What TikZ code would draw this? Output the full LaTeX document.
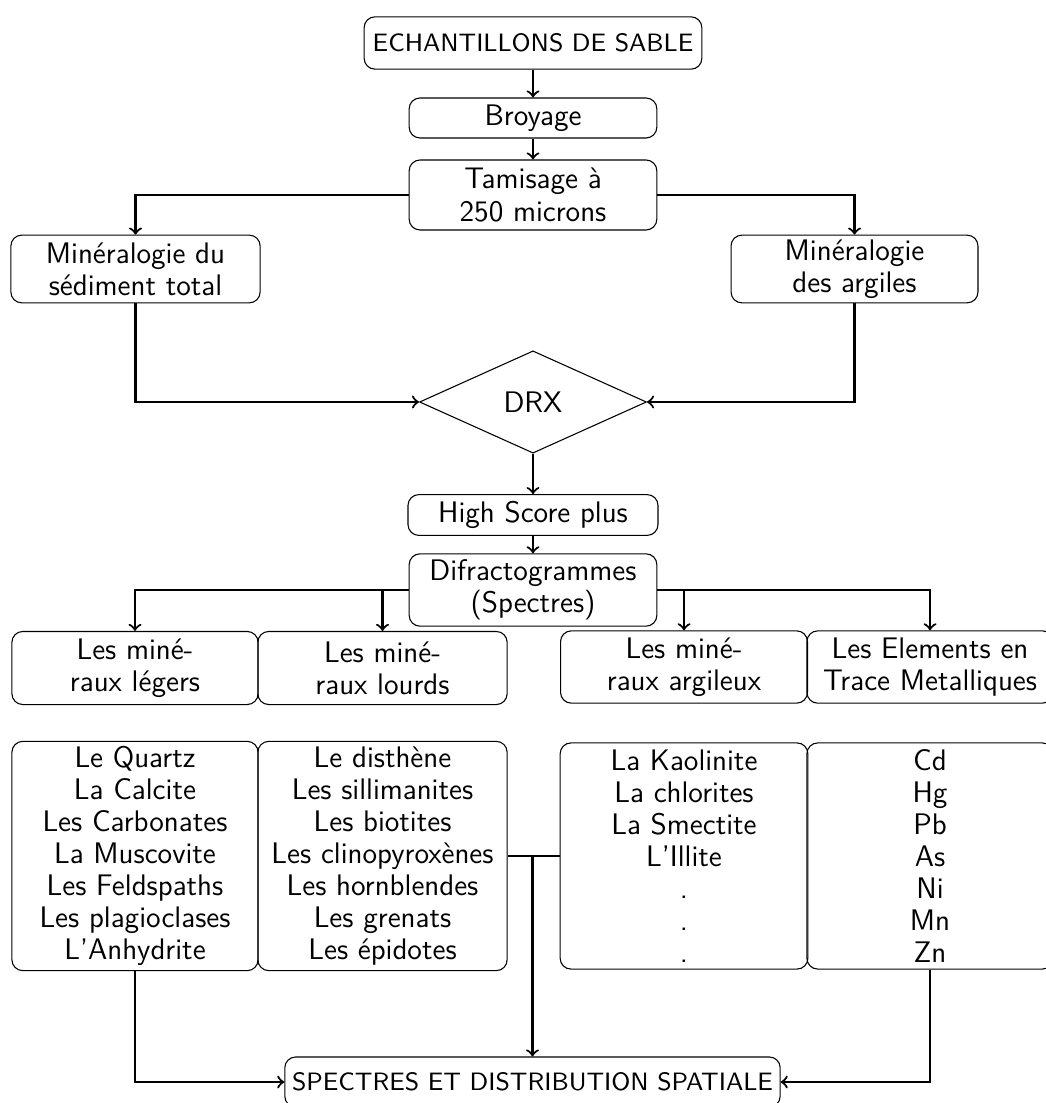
\documentclass[tikz,border=0pt]{standalone}
\usepackage{fontspec}
\usetikzlibrary{shapes.geometric, positioning}

\begin{document}
\begin{tikzpicture}[
    x=0.013cm, y=-0.013cm,
    font=\sffamily\fontsize{11}{11.85}\selectfont,
    box/.style={draw, thin, rounded corners=4pt, align=center, inner sep=0pt},
    capsbox/.style={box, font=\sffamily\fontsize{9.3}{11.85}\selectfont},
    listbox/.style={box, minimum height=2.98cm},
    link/.style={thick, ->}
]
    \useasboundingbox (0,0) rectangle (1045,1103);

    % Preparation
    \node[capsbox, minimum width=4.39cm, minimum height=0.68cm] (ech) at (533,43) {ECHANTILLONS DE SABLE};
    \node[box, minimum width=3.22cm, minimum height=0.52cm] (broy) at (533,118) {Broyage};
    \node[box, minimum width=3.22cm, minimum height=0.91cm] (tam) at (533,195) {Tamisage à\\250 microns};

    % Two kinds of mineralogy
    \node[box, minimum width=3.24cm, minimum height=0.88cm] (mint) at (135.5,269) {Minéralogie du\\sédiment total};
    \node[box, minimum width=3.21cm, minimum height=0.88cm] (mina) at (854.5,269) {Minéralogie\\des argiles};

    % Analysis
    \node[draw, thin, diamond, inner sep=0pt, minimum width=2.95cm, minimum height=1.33cm] (drx) at (533,402) {DRX};
    \node[box, minimum width=3.25cm, minimum height=0.53cm] (hsp) at (533,515) {High Score plus};
    \node[box, minimum width=3.22cm, minimum height=0.94cm] (dif) at (533,590) {Difractogrammes\\(Spectres)};

    % Families
    \node[box, minimum width=3.2cm, minimum height=0.95cm] (leg) at (135,668) {Les miné-\\raux légers};
    \node[box, minimum width=3.24cm, minimum height=0.95cm] (lou) at (382.5,668) {Les miné-\\raux lourds};
    \node[box, minimum width=3.21cm, minimum height=0.94cm] (arg) at (684,667) {Les miné-\\raux argileux};
    \node[box, minimum width=3.2cm, minimum height=0.94cm] (etm) at (930,667) {Les Elements en\\Trace Metalliques};

    % Lists
    \node[listbox, minimum width=3.2cm] (lleg) at (135,856) {Le Quartz\\La Calcite\\Les Carbonates\\La Muscovite\\Les Feldspaths\\Les plagioclases\\L'Anhydrite};
    \node[listbox, minimum width=3.24cm] (llou) at (382.5,856) {Le disthène\\Les sillimanites\\Les biotites\\Les clinopyroxènes\\Les hornblendes\\Les grenats\\Les épidotes};
    \node[listbox, minimum width=3.22cm, minimum height=2.94cm] (larg) at (684,856) {La Kaolinite\\La chlorites\\La Smectite\\L'Illite\\.\\.\\.};
    \node[listbox, minimum width=3.2cm, minimum height=2.94cm] (letm) at (930,856) {Cd\\Hg\\Pb\\As\\Ni\\Mn\\Zn};

    % Result
    \node[capsbox, minimum width=6.44cm, minimum height=0.65cm] (fin) at (532.5,1082) {SPECTRES ET DISTRIBUTION SPATIALE};

    % Connectors
    \draw[link] (broy.north |- ech.south) -- (broy.north);
    \draw[link] (broy) -- (tam);
    \draw[link] (tam.west) -| (mint.north);
    \draw[link] (tam.east) -| (mina.north);
    \draw[link] (mint.south) |- (drx.west);
    \draw[link] (mina.south) |- (drx.east);
    \draw[link] (drx) -- (hsp);
    \draw[link] (hsp) -- (dif);
    \draw[link] (dif.west) -| (leg.north);
    \draw[link] (dif.west) -| (lou.north);
    \draw[link] (dif.east) -| (arg.north);
    \draw[link] (dif.east) -| (etm.north);
    \draw[thick] (llou.east) -- (larg.west);
    \draw[link] (llou.east -| fin.north) -- (fin.north);
    \draw[link] (lleg.south) |- (fin.west);
    \draw[link] (letm.south) |- (fin.east);
\end{tikzpicture}
\end{document}
